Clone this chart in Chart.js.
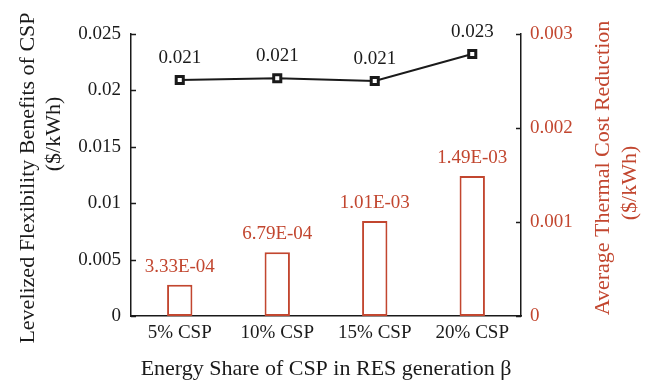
<!DOCTYPE html>
<html>
<head>
<meta charset="utf-8">
<script src="https://cdn.jsdelivr.net/npm/chart.js@4/dist/chart.umd.min.js"></script>
<style>
  html, body { margin: 0; padding: 0; background: #fff; }
  #wrap { width: 646px; height: 384px; position: relative; }
</style>
</head>
<body>
<div id="wrap"><canvas id="c"></canvas></div>
<script>
const categories = ['5% CSP', '10% CSP', '15% CSP', '20% CSP'];
const flexibilityBenefits = [0.02092, 0.02107, 0.02083, 0.02323];
const flexibilityLabels = ['0.021', '0.021', '0.021', '0.023'];
const thermalCostReduction = [3.33e-4, 6.79e-4, 1.01e-3, 1.49e-3];
const thermalLabels = ['3.33E-04', '6.79E-04', '1.01E-03', '1.49E-03'];
const leftTicks = [0, 0.005, 0.01, 0.015, 0.02, 0.025];
const rightTicks = [0, 0.001, 0.002, 0.003];
const leftTickLabels = ['0', '0.005', '0.01', '0.015', '0.02', '0.025'];
const rightTickLabels = ['0', '0.001', '0.002', '0.003'];
const leftTitle = ['Levelized Flexibility Benefits of CSP', '($/kWh)'];
const rightTitle = ['Average Thermal Cost Reduction', '($/kWh)'];
const xTitle = 'Energy Share of CSP in RES generation \u03B2';

const RED = '#C2462F';
const BLACK = '#1a1a1a';
const FONT = "'Liberation Serif', 'Times New Roman', serif";

const extras = {
  id: 'extras',
  afterDatasetsDraw(chart) {
    const ctx = chart.ctx;
    ctx.save();
    ctx.font = '19px ' + FONT;
    ctx.textAlign = 'center';
    ctx.textBaseline = 'middle';
    // bar labels
    const barMeta = chart.getDatasetMeta(0);
    ctx.fillStyle = RED;
    barMeta.data.forEach((el, i) => {
      ctx.fillText(thermalLabels[i], el.x, el.y - 18);
    });
    // line labels
    const lineMeta = chart.getDatasetMeta(1);
    ctx.fillStyle = BLACK;
    lineMeta.data.forEach((el, i) => {
      ctx.fillText(flexibilityLabels[i], el.x, el.y - 22);
    });
    // inward ticks
    const ys = chart.scales.y, y1 = chart.scales.y1;
    const area = chart.chartArea;
    ctx.strokeStyle = BLACK;
    ctx.lineWidth = 1.5;
    leftTicks.forEach(v => {
      const p = Math.round(ys.getPixelForValue(v)) + 0.5;
      ctx.beginPath(); ctx.moveTo(area.left, p); ctx.lineTo(area.left + 5, p); ctx.stroke();
    });
    rightTicks.forEach(v => {
      const p = Math.round(y1.getPixelForValue(v)) + 0.5;
      ctx.beginPath(); ctx.moveTo(area.right - 5, p); ctx.lineTo(area.right, p); ctx.stroke();
    });
    // axis titles (rotated, reading bottom-to-top)
    ctx.font = '22px ' + FONT;
    const drawRot = (text, x, y, color) => {
      ctx.save();
      ctx.translate(x, y);
      ctx.rotate(-Math.PI / 2);
      ctx.fillStyle = color;
      ctx.fillText(text, 0, 0);
      ctx.restore();
    };
    drawRot(leftTitle[0], 28, 178, BLACK);
    drawRot(leftTitle[1], 54, 134, BLACK);
    drawRot(rightTitle[0], 603, 168, RED);
    drawRot(rightTitle[1], 630, 183, RED);
    ctx.restore();
  }
};

new Chart(document.getElementById('c'), {
  data: {
    labels: categories,
    datasets: [
      {
        type: 'bar',
        data: thermalCostReduction,
        yAxisID: 'y1',
        backgroundColor: '#ffffff',
        borderColor: RED,
        borderWidth: 2,
        borderSkipped: false,
        barPercentage: 0.26,
        categoryPercentage: 1,
        order: 1
      },
      {
        type: 'line',
        data: flexibilityBenefits,
        yAxisID: 'y',
        borderColor: BLACK,
        borderWidth: 2,
        tension: 0,
        pointStyle: 'rect',
        pointRadius: 5,
        pointBorderWidth: 3,
        pointBackgroundColor: '#ffffff',
        pointBorderColor: BLACK,
        order: 0
      }
    ]
  },
  options: {
    responsive: true,
    maintainAspectRatio: false,
    animation: false,
    layout: { padding: { top: 34, left: 0, right: 0, bottom: 0 } },
    plugins: { legend: { display: false }, tooltip: { enabled: false } },
    scales: {
      x: {
        type: 'category',
        offset: true,
        grid: { display: false, drawTicks: false },
        border: { display: true, color: BLACK, width: 1.5 },
        ticks: { font: { family: FONT, size: 19 }, color: BLACK, padding: 6, maxRotation: 0 },
        title: { display: true, text: xTitle, font: { family: FONT, size: 22, lineHeight: 1.2 }, color: BLACK, padding: { top: 0, bottom: 2 } },
        afterFit(s) { s.height = 68; }
      },
      y: {
        position: 'left',
        min: 0, max: 0.025,
        grid: { display: false, drawTicks: false },
        border: { display: true, color: BLACK, width: 1.5 },
        afterBuildTicks(s) { s.ticks = leftTicks.map(v => ({ value: v })); },
        ticks: {
          font: { family: FONT, size: 19 }, color: BLACK, padding: 10,
          callback: (v, i) => leftTickLabels[i]
        },
        afterFit(s) { s.width = 131; }
      },
      y1: {
        position: 'right',
        min: 0, max: 0.003,
        grid: { display: false, drawTicks: false },
        border: { display: true, color: BLACK, width: 1.5 },
        afterBuildTicks(s) { s.ticks = rightTicks.map(v => ({ value: v })); },
        ticks: {
          font: { family: FONT, size: 19 }, color: RED, padding: 9,
          callback: (v, i) => rightTickLabels[i]
        },
        afterFit(s) { s.width = 125; }
      }
    }
  },
  plugins: [extras]
});
</script>
</body>
</html>
